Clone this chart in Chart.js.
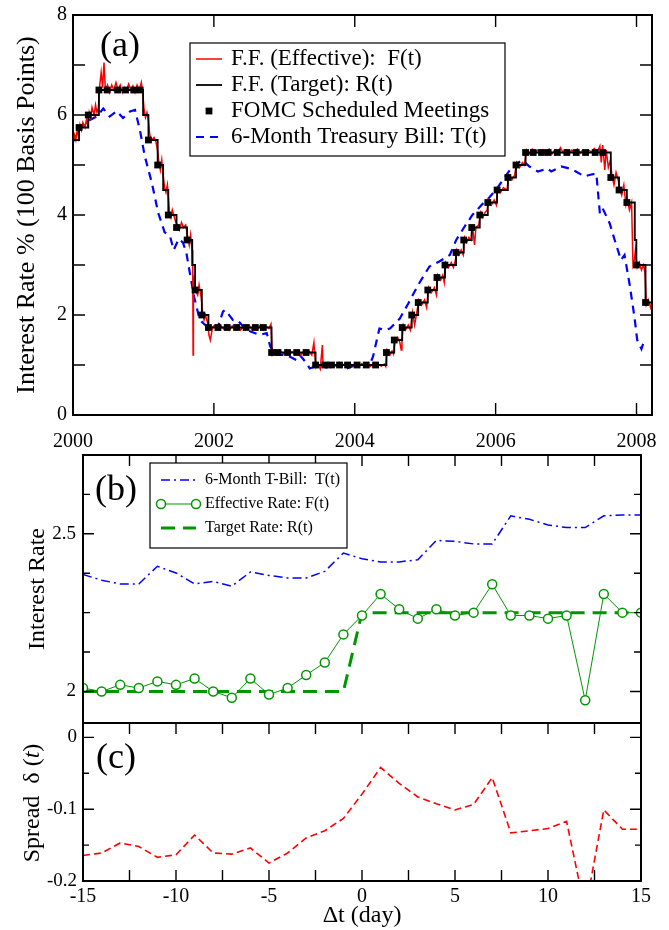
<!DOCTYPE html>
<html>
<head>
<meta charset="utf-8">
<script src="https://cdn.jsdelivr.net/npm/chart.js@4.4.1/dist/chart.umd.min.js"></script>
<style>
  body { margin: 0; background: #fff; }
  #wrap { position: relative; width: 669px; height: 930px; }
  canvas { position: absolute; left: 0; }
</style>
</head>
<body>
<div id="wrap">
  <canvas id="chartA" width="669" height="460" style="top:0"></canvas>
  <canvas id="chartB" width="669" height="283" style="top:447px"></canvas>
  <canvas id="chartC" width="669" height="215" style="top:715px"></canvas>
</div>
<script>
// ---------- panel (a): 2000 - 2008, [year, rate %] ----------
const yearTicks = [2000, 2002, 2004, 2006, 2008];
const rateTicks = [0, 2, 4, 6, 8];

const target = [
  [2000.0, 5.5], [2000.086, 5.75], [2000.217, 6.0], [2000.368, 6.5], [2000.995, 6.0],
  [2001.071, 5.5], [2001.202, 5.0], [2001.280, 4.5], [2001.353, 4.0], [2001.470, 3.75],
  [2001.620, 3.5], [2001.693, 3.0], [2001.733, 2.5], [2001.829, 2.0], [2001.923, 1.75],
  [2002.819, 1.25], [2003.444, 1.0], [2004.450, 1.25], [2004.561, 1.5], [2004.674, 1.75],
  [2004.809, 2.0], [2004.901, 2.25], [2005.037, 2.5], [2005.167, 2.75], [2005.281, 3.0],
  [2005.438, 3.25], [2005.547, 3.5], [2005.661, 3.75], [2005.775, 4.0], [2005.889, 4.25],
  [2006.021, 4.5], [2006.174, 4.75], [2006.289, 5.0], [2006.425, 5.25], [2007.635, 4.75],
  [2007.752, 4.5], [2007.863, 4.25], [2007.976, 3.5], [2007.998, 3.0], [2008.128, 2.25],
  [2008.22, 2.25]
];

const fomc = [
  [2000.086, 5.75], [2000.217, 6.0], [2000.368, 6.5], [2000.484, 6.5], [2000.633, 6.5],
  [2000.746, 6.5], [2000.863, 6.5], [2000.954, 6.5],
  [2001.071, 5.5], [2001.202, 5.0], [2001.353, 4.0], [2001.470, 3.75], [2001.620, 3.5],
  [2001.733, 2.5], [2001.829, 2.0], [2001.923, 1.75],
  [2002.058, 1.75], [2002.189, 1.75], [2002.322, 1.75], [2002.457, 1.75], [2002.588, 1.75],
  [2002.702, 1.75], [2002.819, 1.25], [2002.911, 1.25],
  [2003.046, 1.25], [2003.176, 1.25], [2003.309, 1.25], [2003.444, 1.0], [2003.575, 1.0],
  [2003.670, 1.0], [2003.784, 1.0], [2003.898, 1.0],
  [2004.033, 1.0], [2004.163, 1.0], [2004.296, 1.0], [2004.450, 1.25], [2004.561, 1.5],
  [2004.674, 1.75], [2004.809, 2.0], [2004.901, 2.25],
  [2005.037, 2.5], [2005.167, 2.75], [2005.281, 3.0], [2005.438, 3.25], [2005.547, 3.5],
  [2005.661, 3.75], [2005.775, 4.0], [2005.889, 4.25],
  [2006.021, 4.5], [2006.174, 4.75], [2006.289, 5.0], [2006.425, 5.25], [2006.534, 5.25],
  [2006.651, 5.25], [2006.746, 5.25], [2006.876, 5.25],
  [2007.011, 5.25], [2007.144, 5.25], [2007.277, 5.25], [2007.413, 5.25], [2007.521, 5.25],
  [2007.635, 4.75], [2007.752, 4.5], [2007.863, 4.25],
  [2007.998, 3.0], [2008.128, 2.25]
];

const tbill6m = [
  [2000.00, 5.45], [2000.01, 5.5], [2000.10, 5.74], [2000.24, 5.9], [2000.34, 5.97],
  [2000.43, 6.13], [2000.52, 5.97], [2000.62, 6.08], [2000.71, 5.94], [2000.81, 6.07],
  [2000.88, 6.1], [2000.95, 5.7], [2001.02, 5.17], [2001.12, 4.64], [2001.21, 4.04],
  [2001.30, 3.66], [2001.38, 3.56], [2001.43, 3.3], [2001.50, 3.52], [2001.56, 3.45],
  [2001.61, 3.24], [2001.66, 2.83], [2001.72, 2.36], [2001.80, 1.9], [2001.90, 1.77],
  [2001.99, 1.77], [2002.06, 1.78], [2002.13, 2.07], [2002.16, 2.1], [2002.27, 1.9],
  [2002.34, 1.89], [2002.46, 1.7], [2002.65, 1.6], [2002.75, 1.64], [2002.80, 1.37],
  [2002.89, 1.2], [2003.03, 1.2], [2003.17, 1.1], [2003.22, 1.2], [2003.32, 1.03],
  [2003.36, 0.93], [2003.50, 1.0], [2003.60, 0.95], [2003.74, 1.0], [2003.88, 0.93],
  [2004.02, 1.0], [2004.21, 1.0], [2004.26, 1.17], [2004.35, 1.73], [2004.43, 1.7],
  [2004.50, 1.73], [2004.64, 1.93], [2004.76, 2.23], [2004.90, 2.6], [2005.06, 2.97],
  [2005.20, 3.07], [2005.35, 3.2], [2005.44, 3.5], [2005.56, 3.77], [2005.67, 4.0],
  [2005.80, 4.2], [2005.91, 4.35], [2006.03, 4.55], [2006.10, 4.7], [2006.24, 4.97],
  [2006.38, 5.1], [2006.48, 4.97], [2006.60, 4.87], [2006.74, 4.93], [2006.79, 4.87],
  [2006.93, 4.97], [2007.05, 4.93], [2007.14, 4.87], [2007.26, 4.77], [2007.33, 4.8],
  [2007.43, 4.83], [2007.48, 4.03], [2007.52, 4.13], [2007.62, 3.83], [2007.69, 3.5],
  [2007.78, 3.1], [2007.83, 3.2], [2007.90, 2.63], [2007.97, 1.97], [2008.01, 1.5],
  [2008.07, 1.32], [2008.10, 1.45]
];

const effective = [
  [2000.00, 5.45], [2000.02, 5.6], [2000.04, 5.5], [2000.06, 5.7], [2000.08, 5.55],
  [2000.10, 5.8], [2000.12, 5.7], [2000.14, 5.85], [2000.17, 5.75], [2000.19, 5.9], [2000.21, 5.8],
  [2000.23, 6.05], [2000.25, 5.95], [2000.27, 6.15], [2000.30, 6.0], [2000.32, 6.2], [2000.34, 6.05], [2000.36, 6.15],
  [2000.38, 6.6], [2000.40, 6.85], [2000.42, 6.55], [2000.44, 7.05], [2000.46, 6.5], [2000.49, 6.6],
  [2000.52, 6.45], [2000.55, 6.6], [2000.58, 6.5], [2000.61, 6.65], [2000.64, 6.5], [2000.67, 6.6],
  [2000.70, 6.45], [2000.73, 6.55], [2000.76, 6.5], [2000.79, 6.62], [2000.82, 6.5], [2000.85, 6.58],
  [2000.88, 6.45], [2000.91, 6.6], [2000.94, 6.5], [2000.97, 6.65], [2000.99, 6.45],
  [2001.01, 6.1], [2001.03, 5.95], [2001.05, 6.05], [2001.07, 5.9],
  [2001.09, 5.6], [2001.12, 5.5], [2001.15, 5.55], [2001.18, 5.45], [2001.20, 5.3],
  [2001.22, 5.05], [2001.24, 4.9], [2001.26, 5.1], [2001.28, 4.8],
  [2001.30, 4.55], [2001.32, 4.45], [2001.34, 4.6],
  [2001.37, 4.05], [2001.39, 3.95], [2001.41, 4.1], [2001.44, 3.95], [2001.46, 3.85],
  [2001.48, 3.8], [2001.51, 3.7], [2001.54, 3.85], [2001.57, 3.75], [2001.60, 3.8],
  [2001.63, 3.55], [2001.65, 3.4], [2001.67, 3.6], [2001.69, 3.3],
  [2001.70, 2.9], [2001.705, 1.2], [2001.71, 2.6], [2001.725, 2.8],
  [2001.74, 2.5], [2001.77, 2.4], [2001.79, 2.6], [2001.82, 2.35],
  [2001.84, 2.05], [2001.86, 1.9], [2001.88, 2.0], [2001.91, 1.85],
  [2001.93, 1.6], [2001.95, 1.5], [2001.98, 1.75], [2002.02, 1.8], [2002.06, 1.7], [2002.10, 1.78],
  [2002.14, 1.72], [2002.18, 1.8], [2002.22, 1.7], [2002.26, 1.78], [2002.30, 1.72], [2002.34, 1.8],
  [2002.38, 1.7], [2002.42, 1.78], [2002.46, 1.73], [2002.50, 1.8], [2002.54, 1.7], [2002.58, 1.77],
  [2002.62, 1.72], [2002.66, 1.8], [2002.70, 1.7], [2002.74, 1.78], [2002.78, 1.73], [2002.81, 1.82],
  [2002.83, 1.2], [2002.87, 1.28], [2002.91, 1.2], [2002.95, 1.27], [2002.99, 1.22], [2003.03, 1.3],
  [2003.07, 1.2], [2003.11, 1.27], [2003.15, 1.22], [2003.19, 1.28], [2003.23, 1.2], [2003.27, 1.26],
  [2003.31, 1.22], [2003.35, 1.28], [2003.39, 1.2], [2003.42, 1.45], [2003.43, 1.25],
  [2003.45, 0.95], [2003.48, 1.02], [2003.51, 0.92], [2003.54, 1.4], [2003.55, 1.0], [2003.58, 0.95],
  [2003.62, 1.05], [2003.66, 0.95], [2003.70, 1.02], [2003.74, 0.97], [2003.78, 1.05], [2003.82, 0.98],
  [2003.86, 1.03], [2003.90, 0.97], [2003.94, 1.02], [2003.98, 0.98], [2004.02, 1.02], [2004.06, 0.97],
  [2004.10, 1.03], [2004.14, 0.98], [2004.18, 1.01], [2004.22, 0.97], [2004.26, 1.02], [2004.30, 0.98],
  [2004.34, 1.01], [2004.38, 0.98], [2004.42, 1.02], [2004.44, 0.97],
  [2004.46, 1.3], [2004.50, 1.2], [2004.53, 1.28], [2004.55, 1.22],
  [2004.57, 1.45], [2004.61, 1.55], [2004.64, 1.45], [2004.66, 1.3], [2004.67, 1.5],
  [2004.69, 1.8], [2004.72, 1.7], [2004.76, 1.8], [2004.79, 1.7],
  [2004.82, 2.05], [2004.85, 1.8], [2004.88, 2.05],
  [2004.91, 2.3], [2004.95, 2.2], [2004.99, 2.3], [2005.02, 2.15],
  [2005.05, 2.55], [2005.09, 2.45], [2005.13, 2.55], [2005.16, 2.4],
  [2005.18, 2.8], [2005.22, 2.7], [2005.25, 2.8], [2005.27, 2.65],
  [2005.29, 3.05], [2005.33, 2.95], [2005.37, 3.05], [2005.40, 2.95], [2005.43, 3.1],
  [2005.45, 3.3], [2005.48, 3.2], [2005.51, 3.3], [2005.54, 3.2],
  [2005.56, 3.55], [2005.59, 3.45], [2005.62, 3.55], [2005.65, 3.5],
  [2005.67, 3.8], [2005.70, 3.4], [2005.72, 3.75], [2005.76, 3.8],
  [2005.79, 4.05], [2005.82, 3.95], [2005.85, 4.05], [2005.88, 4.1],
  [2005.90, 4.3], [2005.94, 4.2], [2005.98, 4.3], [2006.01, 4.2],
  [2006.03, 4.55], [2006.07, 4.45], [2006.11, 4.55], [2006.16, 4.5],
  [2006.19, 4.8], [2006.23, 4.7], [2006.27, 4.8],
  [2006.30, 5.05], [2006.34, 4.95], [2006.38, 5.05], [2006.41, 5.0],
  [2006.44, 5.3], [2006.48, 5.22], [2006.52, 5.32], [2006.56, 5.25], [2006.60, 5.3], [2006.64, 5.22],
  [2006.68, 5.3], [2006.72, 5.25], [2006.76, 5.32], [2006.80, 5.22], [2006.84, 5.3], [2006.88, 5.25],
  [2006.92, 5.35], [2006.96, 5.24], [2007.00, 5.3], [2007.04, 5.22], [2007.08, 5.3], [2007.12, 5.25],
  [2007.16, 5.32], [2007.20, 5.24], [2007.24, 5.3], [2007.28, 5.22], [2007.32, 5.3], [2007.36, 5.26],
  [2007.40, 5.33], [2007.44, 5.25], [2007.48, 5.38], [2007.50, 5.05], [2007.52, 5.4], [2007.55, 4.9],
  [2007.57, 5.3], [2007.60, 4.95], [2007.63, 5.1],
  [2007.65, 4.8], [2007.68, 4.6], [2007.71, 4.85], [2007.74, 4.7],
  [2007.76, 4.55], [2007.79, 4.4], [2007.82, 4.6], [2007.85, 4.2],
  [2007.87, 4.3], [2007.90, 4.1], [2007.93, 4.25], [2007.95, 3.0], [2007.97, 3.1],
  [2007.985, 3.3],
  [2008.01, 2.95], [2008.04, 3.05], [2008.07, 2.9], [2008.10, 3.0], [2008.12, 2.85],
  [2008.14, 2.2], [2008.17, 2.3], [2008.20, 2.15], [2008.22, 2.25]
];

// ---------- panels (b) and (c): days around a target change ----------
const lagDays = [-15, -14, -13, -12, -11, -10, -9, -8, -7, -6, -5, -4, -3, -2, -1,
                 0, 1, 2, 3, 4, 5, 6, 7, 8, 9, 10, 11, 12, 13, 14, 15];
const lagTicks = [-15, -10, -5, 0, 5, 10, 15];
const tbillLag = [2.371, 2.353, 2.341, 2.341, 2.397, 2.376, 2.341, 2.349, 2.334, 2.379, 2.368,
                  2.36, 2.36, 2.381, 2.439, 2.421, 2.411, 2.411, 2.418, 2.479, 2.476, 2.468,
                  2.468, 2.557, 2.546, 2.528, 2.52, 2.52, 2.557, 2.56, 2.56];
const effLag = [2.011, 2.0, 2.021, 2.011, 2.032, 2.021, 2.041, 2.0, 1.98, 2.041, 1.99,
                2.011, 2.052, 2.092, 2.181, 2.241, 2.309, 2.261, 2.231, 2.261, 2.241, 2.25,
                2.34, 2.241, 2.241, 2.231, 2.241, 1.972, 2.309, 2.25, 2.25];
const targetLag = [2.0, 2.0, 2.0, 2.0, 2.0, 2.0, 2.0, 2.0, 2.0, 2.0, 2.0, 2.0, 2.0, 2.0, 2.0,
                   2.25, 2.25, 2.25, 2.25, 2.25, 2.25, 2.25, 2.25, 2.25, 2.25, 2.25, 2.25,
                   2.25, 2.25, 2.25, 2.25];
const spreadLag = [-0.1645, -0.161, -0.147, -0.152, -0.167, -0.1635, -0.136, -0.161, -0.1625,
                   -0.154, -0.175, -0.161, -0.14, -0.13, -0.113, -0.079, -0.042, -0.064,
                   -0.083, -0.0925, -0.101, -0.0935, -0.056, -0.133, -0.13, -0.127, -0.117,
                   -0.241, -0.101, -0.128, -0.128];

const FAM = "'Liberation Serif', 'Times New Roman', serif";
const GREEN = 'rgb(0,150,0)';
Chart.defaults.font.family = FAM;
Chart.defaults.color = '#000';

const toXY = arr => arr.map(p => ({x: p[0], y: p[1]}));
const zip = (xs, ys) => xs.map((x, i) => ({x: x, y: ys[i]}));
const fixY = w => s => { s.width = w; s.paddingTop = 0; s.paddingBottom = 0; };
const fixX = h => s => { s.height = h; s.paddingLeft = 0; s.paddingRight = 0; };
const noGrid = {display: false, drawTicks: false};

// per-canvas decoration: frame ticks, legend box, panel letter
const deco = {
  chartA: {
    sides: 'tb', len: 12, minorLen: 12,
    xMajor: yearTicks, xMinor: [], yMajor: rateTicks, yMinor: [1, 3, 5, 7],
    tag: ['(a)', 120, 47],
    legend: {box: [190, 43, 505, 156], rows: [59, 85, 111, 137], sample: [196, 222],
             textX: 231, size: 23, items: [2, 1, 0, 3]}
  },
  chartB: {
    sides: 't', len: 11, minorLen: 7,
    xMajor: lagTicks, xMinor: [-12.5, -7.5, -2.5, 2.5, 7.5, 12.5],
    yMajor: [2, 2.5], yMinor: [2.125, 2.25, 2.375, 2.625],
    tag: ['(b)', 116, 44],
    legend: {box: [150, 16, 347, 101], rows: [33, 57, 81], sample: [161, 196],
             textX: 205, size: 16, items: [2, 0, 1]}
  },
  chartC: {
    sides: 'tb', len: 11, minorLen: 6,
    xMajor: lagTicks, xMinor: [-12.5, -7.5, -2.5, 2.5, 7.5, 12.5],
    yMajor: [-0.2, -0.1, 0], yMinor: [-0.15, -0.05],
    tag: ['(c)', 116, 44],
    spreadTitle: [33, 88]
  }
};

function drawMarker(ctx, ds, x, y) {
  const r = ds.pointRadius;
  if (ds.pointStyle === 'rect') {
    const h = r * Math.SQRT1_2;
    ctx.fillStyle = ds.backgroundColor;
    ctx.fillRect(x - h, y - h, 2 * h, 2 * h);
  } else {
    ctx.beginPath();
    ctx.arc(x, y, r, 0, Math.PI * 2);
    ctx.fillStyle = ds.pointBackgroundColor || '#fff';
    ctx.fill();
    ctx.lineWidth = ds.pointBorderWidth || 1;
    ctx.strokeStyle = ds.pointBorderColor || ds.borderColor;
    ctx.stroke();
  }
}

const framePlugin = {
  id: 'frame',
  afterDatasetsDraw(chart) {
    const d = deco[chart.canvas.id];
    const {ctx, chartArea: a} = chart;
    const sx = chart.scales.x, sy = chart.scales.y;
    ctx.save();
    ctx.strokeStyle = '#000';
    ctx.lineWidth = 1.4;
    ctx.beginPath();
    const seg = (x1, y1, x2, y2) => { ctx.moveTo(x1, y1); ctx.lineTo(x2, y2); };
    const xt = (vals, len) => vals.forEach(v => {
      const p = sx.getPixelForValue(v);
      if (d.sides.includes('b')) seg(p, a.bottom, p, a.bottom - len);
      if (d.sides.includes('t')) seg(p, a.top, p, a.top + len);
    });
    const yt = (vals, len) => vals.forEach(v => {
      const p = sy.getPixelForValue(v);
      seg(a.left, p, a.left + len, p);
      seg(a.right, p, a.right - len, p);
    });
    xt(d.xMajor, d.len); xt(d.xMinor, d.len);
    yt(d.yMajor, d.len); yt(d.yMinor, d.minorLen);
    ctx.stroke();
    ctx.lineWidth = 2;
    ctx.strokeRect(a.left, a.top, a.right - a.left, a.bottom - a.top);
    ctx.restore();
  },
  afterDraw(chart) {
    const d = deco[chart.canvas.id];
    const ctx = chart.ctx;
    ctx.save();
    ctx.fillStyle = '#000';
    ctx.font = '36px ' + FAM;
    ctx.textAlign = 'center';
    ctx.textBaseline = 'middle';
    ctx.fillText(d.tag[0], d.tag[1], d.tag[2]);

    if (d.legend) {
      const L = d.legend;
      ctx.fillStyle = '#fff';
      ctx.fillRect(L.box[0], L.box[1], L.box[2] - L.box[0], L.box[3] - L.box[1]);
      ctx.strokeStyle = '#000';
      ctx.lineWidth = 1.2;
      ctx.strokeRect(L.box[0], L.box[1], L.box[2] - L.box[0], L.box[3] - L.box[1]);
      L.items.forEach((di, k) => {
        const ds = chart.data.datasets[di];
        const y = L.rows[k];
        const [x0, x1] = L.sample;
        if (ds.showLine !== false) {
          ctx.beginPath();
          ctx.setLineDash(ds.borderDash || []);
          ctx.lineWidth = ds.borderWidth;
          ctx.strokeStyle = ds.borderColor;
          ctx.moveTo(x0, y); ctx.lineTo(x1, y);
          ctx.stroke();
          ctx.setLineDash([]);
        }
        if (ds.pointRadius > 0) {
          const pts = ds.showLine === false ? [(x0 + x1) / 2] : [x0, x1];
          pts.forEach(px => drawMarker(ctx, ds, px, y));
        }
        ctx.fillStyle = '#000';
        ctx.font = L.size + 'px ' + FAM;
        ctx.textAlign = 'left';
        ctx.textBaseline = 'middle';
        ctx.fillText(ds.label, L.textX, y);
      });
    }

    if (d.spreadTitle) {
      // "Spread δ (t)" with italic t
      const parts = [['Spread  \u03b4 (', '24px ' + FAM], ['t', 'italic 24px ' + FAM], [')', '24px ' + FAM]];
      let w = 0;
      parts.forEach(p => { ctx.font = p[1]; w += ctx.measureText(p[0]).width; });
      ctx.translate(d.spreadTitle[0], d.spreadTitle[1]);
      ctx.rotate(-Math.PI / 2);
      ctx.fillStyle = '#000';
      ctx.textAlign = 'left';
      ctx.textBaseline = 'middle';
      let x = -w / 2;
      parts.forEach(p => { ctx.font = p[1]; ctx.fillText(p[0], x, 0); x += ctx.measureText(p[0]).width; });
    }
    ctx.restore();
  }
};

const base = {
  responsive: false,
  devicePixelRatio: 1,
  animation: false,
  plugins: {legend: {display: false}, tooltip: {enabled: false}}
};

// panel (a)
new Chart(document.getElementById('chartA'), {
  type: 'line',
  data: {
    datasets: [
      {label: 'FOMC Scheduled Meetings', data: toXY(fomc), showLine: false,
       pointStyle: 'rect', pointRadius: 4.8, backgroundColor: '#000', borderColor: '#000', borderWidth: 0},
      {label: 'F.F. (Target): R(t)', data: toXY(target), stepped: true,
       borderColor: '#000', borderWidth: 1.8, pointRadius: 0},
      {label: 'F.F. (Effective):  F(t)', data: toXY(effective),
       borderColor: '#ff0000', borderWidth: 1.5, pointRadius: 0},
      {label: '6-Month Treasury Bill: T(t)', data: toXY(tbill6m),
       borderColor: '#0000ff', borderWidth: 2.2, borderDash: [8, 6], pointRadius: 0}
    ]
  },
  options: Object.assign({}, base, {
    layout: {padding: {left: 0, top: 15, right: 17, bottom: 0}},
    scales: {
      x: {type: 'linear', min: 2000, max: 2008.22, afterFit: fixX(45),
          grid: noGrid, border: {display: false},
          ticks: {stepSize: 2, includeBounds: false, maxRotation: 0, padding: 15,
                  font: {size: 20}, callback: v => String(v)}},
      y: {type: 'linear', min: 0, max: 8, afterFit: fixY(73),
          grid: noGrid, border: {display: false},
          ticks: {stepSize: 2, padding: 6, font: {size: 20}},
          title: {display: true, text: 'Interest Rate % (100 Basis Points)',
                  font: {size: 26}, padding: {top: 12, bottom: 0}}}
    }
  }),
  plugins: [framePlugin]
});

// panel (b)
new Chart(document.getElementById('chartB'), {
  type: 'line',
  data: {
    datasets: [
      {label: 'Effective Rate: F(t)', data: zip(lagDays, effLag),
       borderColor: GREEN, borderWidth: 1, pointRadius: 4.5, pointBorderWidth: 1.5,
       pointBackgroundColor: '#fff', pointBorderColor: GREEN},
      {label: 'Target Rate: R(t)', data: zip(lagDays, targetLag),
       borderColor: GREEN, borderWidth: 3, borderDash: [14, 8], pointRadius: 0},
      {label: '6-Month T-Bill:  T(t)', data: zip(lagDays, tbillLag),
       borderColor: '#0000ff', borderWidth: 1.5, borderDash: [9, 4, 2, 4], pointRadius: 0}
    ]
  },
  options: Object.assign({}, base, {
    layout: {padding: {left: 0, top: 8, right: 28, bottom: 7}},
    scales: {
      x: {type: 'linear', min: -15, max: 15, afterFit: fixX(0),
          grid: noGrid, border: {display: false}, ticks: {display: false}},
      y: {type: 'linear', min: 1.9, max: 2.75, afterFit: fixY(83),
          grid: noGrid, border: {display: false},
          ticks: {stepSize: 0.5, includeBounds: false, padding: 7, font: {size: 19},
                  callback: v => String(+v.toFixed(2))},
          title: {display: true, text: 'Interest Rate', font: {size: 24},
                  padding: {top: 23, bottom: 0}}}
    }
  }),
  plugins: [framePlugin]
});

// panel (c)
new Chart(document.getElementById('chartC'), {
  type: 'line',
  data: {
    datasets: [
      {label: 'Spread', data: zip(lagDays, spreadLag),
       borderColor: '#ff0000', borderWidth: 1.6, borderDash: [7, 4], pointRadius: 0}
    ]
  },
  options: Object.assign({}, base, {
    layout: {padding: {left: 0, top: 8, right: 28, bottom: 0}},
    scales: {
      x: {type: 'linear', min: -15, max: 15, afterFit: fixX(49),
          grid: noGrid, border: {display: false},
          ticks: {stepSize: 5, padding: 4, maxRotation: 0, font: {size: 20}},
          title: {display: true, text: '\u0394t (day)', font: {size: 24},
                  padding: {top: 0, bottom: 0}}},
      y: {type: 'linear', min: -0.2, max: 0.02, afterFit: fixY(83),
          grid: noGrid, border: {display: false},
          ticks: {stepSize: 0.1, includeBounds: false, padding: 6, font: {size: 19},
                  callback: v => (Math.abs(v) < 1e-9 ? '0' : v.toFixed(1))}}
    }
  }),
  plugins: [framePlugin]
});
</script>
</body>
</html>
